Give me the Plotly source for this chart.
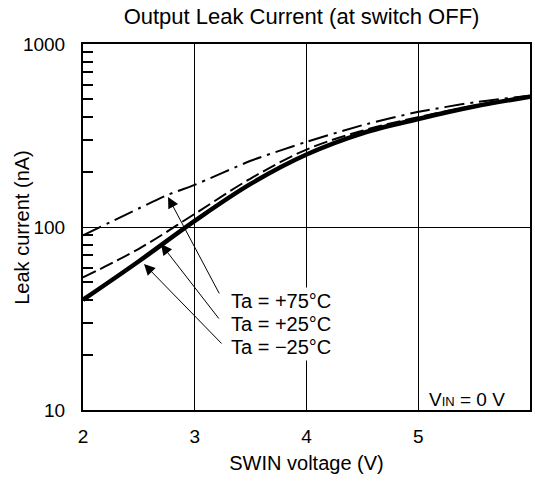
import numpy as np
import plotly.graph_objects as go

# ---- data ----
x_volt = [2, 2.5, 3, 3.5, 4, 4.5, 5, 5.5, 6]
leak_m25 = [40, 65, 108, 172, 249, 325, 389, 455, 515]
leak_p25 = [53, 76, 118, 184, 265, 336, 398, 460, 518]
x_volt_p75 = [2, 2.76, 3, 3.5, 4, 4.5, 5, 5.5, 6]
leak_p75 = [90, 150, 170, 230, 292, 360, 426, 480, 522]

x_ticks = [2, 3, 4, 5, 6]
y_major = [10, 100, 1000]
y_minor = [20, 30, 40, 50, 60, 70, 80, 90, 200, 300, 400, 500, 600, 700, 800, 900]

labels = ["Ta = +75°C", "Ta = +25°C", "Ta = −25°C"]
label_y = [1.596, 1.470, 1.344]   # log10 positions of label centres
# arrow tips (data coords, voltage / current in nA) and tail offsets (px)
arrow_x = [2.761, 2.698, 2.546]
arrow_y = [146, 80.7, 62.8]
arrow_ax = [52, 59, 79]
arrow_ay = [98, 76, 81]

FONT = "Liberation Sans, Arial, sans-serif"

fig = go.Figure()
fig.add_trace(go.Scatter(x=x_volt_p75, y=leak_p75, mode="lines",
                         line=dict(color="black", width=2, dash="20px,6px,3px,6px",
                                   shape="spline", smoothing=0.5),
                         name="+75"))
fig.add_trace(go.Scatter(x=x_volt, y=leak_p25, mode="lines",
                         line=dict(color="black", width=2, dash="14px,5px",
                                   shape="spline", smoothing=1),
                         name="+25"))
fig.add_trace(go.Scatter(x=x_volt, y=leak_m25, mode="lines",
                         line=dict(color="black", width=4.5, shape="spline", smoothing=1),
                         name="-25"))

annotations = []
for xa, ya, axp, ayp in zip(arrow_x, arrow_y, arrow_ax, arrow_ay):
    annotations.append(dict(x=xa, y=np.log10(ya), xref="x", yref="y", text="",
                            showarrow=True, ax=axp, ay=ayp, arrowhead=2,
                            arrowsize=2.2, arrowwidth=1, arrowcolor="black"))
for txt, ly in zip(labels, label_y):
    annotations.append(dict(x=3.30, y=ly, xref="x", yref="y", xanchor="left",
                            yanchor="middle", align="left", showarrow=False,
                            text=txt, bgcolor="white", borderpad=2,
                            font=dict(family=FONT, size=20, color="black")))
annotations.append(dict(x=0.948, y=0.03, xref="paper", yref="paper", xanchor="right",
                        yanchor="middle", showarrow=False,
                        text="V<span style='font-size:13px'>IN</span> = 0 V",
                        font=dict(family=FONT, size=19, color="black")))
# y-axis title
annotations.append(dict(x=-0.137, y=0.5, xref="paper", yref="paper", xanchor="center",
                        yanchor="middle", showarrow=False, textangle=-90,
                        text="Leak current (nA)",
                        font=dict(family=FONT, size=20, color="black")))

fig.update_layout(
    width=535, height=487,
    margin=dict(l=83, r=5, t=44, b=77, autoexpand=False),
    paper_bgcolor="white", plot_bgcolor="white",
    showlegend=False,
    title=dict(text="Output Leak Current (at switch OFF)", x=0.5636, xanchor="center",
               y=0.982, yanchor="top",
               font=dict(family=FONT, size=22, color="black")),
    font=dict(family=FONT, size=19, color="black"),
    annotations=annotations,
)
fig.update_xaxes(range=[2, 6], tickvals=x_ticks, showgrid=True, gridcolor="black",
                 gridwidth=1, showline=True, linecolor="black", linewidth=2, mirror=True,
                 ticks="", zeroline=False, ticklabelstandoff=8, automargin=False,
                 title=dict(text="SWIN voltage (V)", standoff=10,
                            font=dict(family=FONT, size=20)))
fig.update_yaxes(type="log", range=[1, 3], tickvals=y_major, ticktext=["10", "100", "1000"],
                 showgrid=True, gridcolor="black", gridwidth=1,
                 showline=True, linecolor="black", linewidth=2, mirror=True,
                 ticks="", zeroline=False, ticklabelstandoff=12, automargin=False,
                 minor=dict(tickvals=y_minor, ticks="inside", ticklen=10,
                            tickcolor="black", tickwidth=1.5, showgrid=False))

fig.write_html("out.html", config={"displayModeBar": False},
               post_script="document.body.style.margin='0';")
